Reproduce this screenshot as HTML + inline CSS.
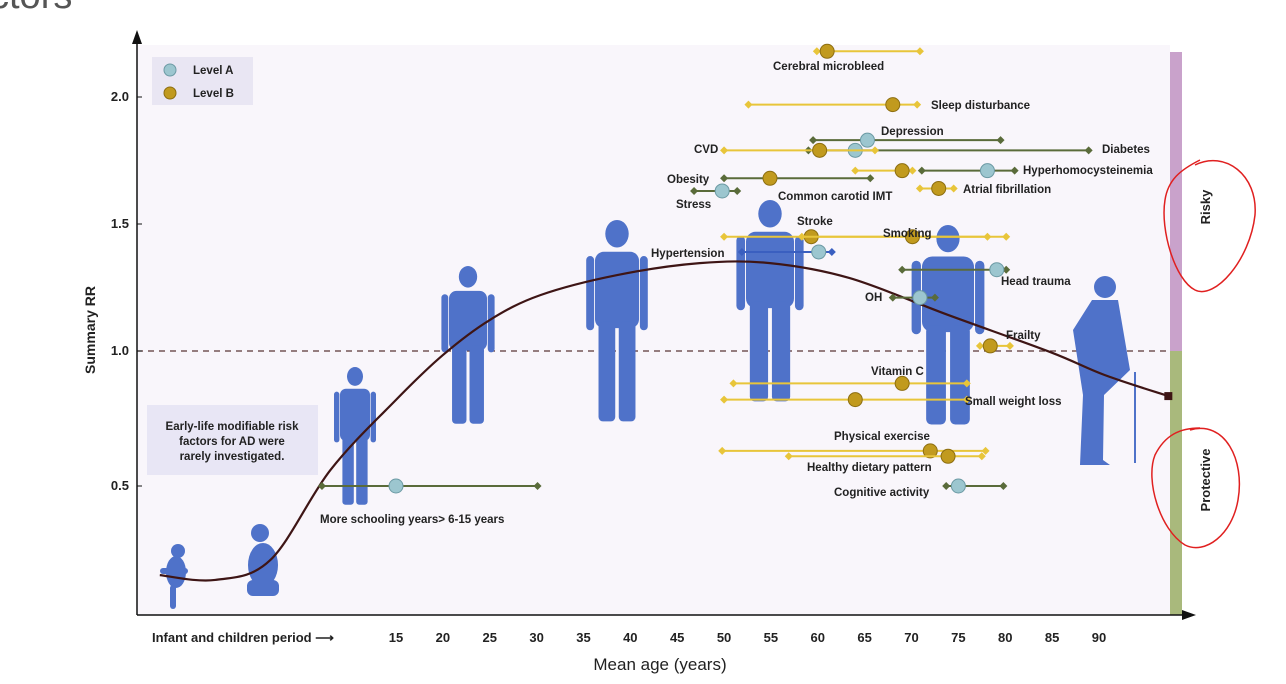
<!DOCTYPE html>
<html><head><meta charset="utf-8">
<style>
body{margin:0;width:1286px;height:684px;background:#fff;overflow:hidden;font-family:"Liberation Sans",sans-serif;}
svg{position:absolute;left:0;top:0}
text{font-family:"Liberation Sans",sans-serif}
.lb{font-size:11.5px;font-weight:bold;fill:#222}
</style></head><body>
<svg id="c" width="1286" height="684">
<text x="-10" y="8" font-size="38" fill="#555">ctors</text>
<rect x="137" y="45" width="1033" height="570" fill="#f9f6fb"/>
<rect x="1170" y="52" width="12" height="299" fill="#c9a2cb"/>
<rect x="1170" y="351" width="12" height="264" fill="#a9b97c"/>
<text transform="translate(1210,207) rotate(-90)" text-anchor="middle" font-size="13" font-weight="bold" fill="#222">Risky</text>
<text transform="translate(1210,480) rotate(-90)" text-anchor="middle" font-size="13" font-weight="bold" fill="#222">Protective</text>
<path d="M1195,165 C1225,150 1258,175 1255,215 C1250,260 1215,300 1195,290 C1175,280 1160,230 1165,200 C1168,180 1180,170 1200,160" fill="none" stroke="#e02020" stroke-width="1.5"/>
<path d="M1190,430 C1225,420 1245,460 1238,500 C1232,535 1205,555 1185,545 C1160,530 1145,480 1155,455 C1165,435 1180,428 1200,428" fill="none" stroke="#e02020" stroke-width="1.5"/>
<line x1="137" y1="351" x2="1170" y2="351" stroke="#5a3535" stroke-width="1.3" stroke-dasharray="6,5"/>
<g id="figs" fill="#4f72c9"></g>
<g id="curve"></g>
<g id="marks"></g>
<line x1="137" y1="615" x2="137" y2="40" stroke="#111" stroke-width="1.5"/>
<path d="M132,44 L137,30 L142,44 Z" fill="#111"/>
<line x1="137" y1="615" x2="1185" y2="615" stroke="#111" stroke-width="1.5"/>
<path d="M1182,610 L1196,615 L1182,620 Z" fill="#111"/>
<g id="ticks"></g>
<text x="152" y="642" font-size="13" font-weight="bold" fill="#222">Infant and children period ⟶</text>
<text x="660" y="670" text-anchor="middle" font-size="17" fill="#222">Mean age (years)</text>
<text transform="translate(95,330) rotate(-90)" text-anchor="middle" font-size="14" font-weight="bold" fill="#222">Summary RR</text>
<g>
<rect x="152" y="57" width="101" height="48" fill="#e9e6f3"/>
<circle cx="170" cy="70" r="6" fill="#9cc6cf" stroke="#6c9aa4"/>
<text x="193" y="74" font-size="11.5" font-weight="bold" fill="#222">Level A</text>
<circle cx="170" cy="93" r="6" fill="#c19a1e" stroke="#8d6e10"/>
<text x="193" y="97" font-size="11.5" font-weight="bold" fill="#222">Level B</text>
</g>
<g>
<rect x="147" y="405" width="171" height="70" fill="#e8e6f5"/>
<text x="232" y="430" text-anchor="middle" font-size="11.5" font-weight="bold" fill="#222">Early-life modifiable risk</text>
<text x="232" y="445" text-anchor="middle" font-size="11.5" font-weight="bold" fill="#222">factors for AD were</text>
<text x="232" y="460" text-anchor="middle" font-size="11.5" font-weight="bold" fill="#222">rarely investigated.</text>
</g>
<g id="labels">
<text class="lb" x="773" y="70">Cerebral microbleed</text>
<text class="lb" x="931" y="109">Sleep disturbance</text>
<text class="lb" x="881" y="135">Depression</text>
<text class="lb" x="1102" y="153">Diabetes</text>
<text class="lb" x="694" y="153">CVD</text>
<text class="lb" x="1023" y="174">Hyperhomocysteinemia</text>
<text class="lb" x="667" y="183">Obesity</text>
<text class="lb" x="963" y="193">Atrial fibrillation</text>
<text class="lb" x="778" y="200">Common carotid IMT</text>
<text class="lb" x="676" y="208">Stress</text>
<text class="lb" x="797" y="225">Stroke</text>
<text class="lb" x="883" y="237">Smoking</text>
<text class="lb" x="651" y="257">Hypertension</text>
<text class="lb" x="1001" y="285">Head trauma</text>
<text class="lb" x="865" y="301">OH</text>
<text class="lb" x="1006" y="339">Frailty</text>
<text class="lb" x="871" y="375">Vitamin C</text>
<text class="lb" x="965" y="405">Small weight loss</text>
<text class="lb" x="834" y="440">Physical exercise</text>
<text class="lb" x="807" y="471">Healthy dietary pattern</text>
<text class="lb" x="834" y="496">Cognitive activity</text>
<text class="lb" x="320" y="523">More schooling years&gt; 6-15 years</text>
</g>
</svg>
<script>
const xTicks=[15,20,25,30,35,40,45,50,55,60,65,70,75,80,85,90];
const yTicks=[0.5,1.0,1.5,2.0];
const factorNames=["Cerebral microbleed","Sleep disturbance","Depression","Diabetes","CVD","Common carotid IMT","Hyperhomocysteinemia","Obesity","Atrial fibrillation","Stress","Stroke","Smoking","Hypertension","Head trauma","OH","Frailty","Vitamin C","Small weight loss","Physical exercise","Healthy dietary pattern","Cognitive activity","More schooling"];
const pointAge=[61.0,68.0,65.3,64.0,60.2,69.0,78.1,54.9,72.9,49.8,59.3,70.1,60.1,79.1,70.9,78.4,69.0,64.0,72.0,73.9,75.0,15.0];
const lowAge=[59.9,52.6,59.5,59.0,50.0,64.0,71.1,50.0,70.9,46.8,50.0,58.3,51.9,69.0,68.0,77.3,51.0,50.0,49.8,56.9,73.7,7.1];
const highAge=[70.9,70.6,79.5,88.9,66.1,70.1,81.0,65.6,74.5,51.4,78.1,80.1,61.5,80.1,72.5,80.5,75.9,75.9,77.9,77.5,79.8,30.1];
const summaryRR=[2.18,1.97,1.83,1.79,1.79,1.71,1.71,1.68,1.64,1.63,1.45,1.45,1.39,1.32,1.21,1.02,0.88,0.82,0.63,0.61,0.50,0.50];
const evidenceLevel=["B","B","A","A","B","B","A","B","B","A","B","B","A","A","A","B","B","B","B","B","A","A"];
const lineKind=["gold","gold","green","green","gold","gold","green","green","gold","green","gold","gold","blue","green","green","gold","gold","gold","gold","gold","green","green"];
const curveAges=[-10.2,-4.3,1.6,8.0,15,20,25,30.4,38.6,47.4,54.9,63.4,73.9,84.8,90.6,97.4];
const curveRR=[0.170,0.152,0.226,0.559,0.819,0.985,1.122,1.220,1.299,1.346,1.346,1.287,1.142,0.996,0.911,0.833];

const NS="http://www.w3.org/2000/svg";
const xs=a=>396+(a-15)*9.373;
const ys=v=>v>=1?351-(v-1)*254:351+(1-v)*270;
function mk(tag,at,parent){const e=document.createElementNS(NS,tag);for(const k in at)e.setAttribute(k,at[k]);parent.appendChild(e);return e;}
const ticks=document.getElementById('ticks');
xTicks.forEach(t=>{const e=mk('text',{x:xs(t),y:642,'text-anchor':'middle','font-size':13,'font-weight':'bold',fill:'#222'},ticks);e.textContent=t;

});
yTicks.forEach(t=>{const e=mk('text',{x:129,y:ys(t)+4,'text-anchor':'end','font-size':13,'font-weight':'bold',fill:'#222'},ticks);e.textContent=t.toFixed(1);


const l=mk('line',{x1:137,x2:142,y1:ys(t),y2:ys(t),stroke:'#111'},ticks);

});

const figs=document.getElementById('figs');
function person(cx,top,h,w){const g=mk('g',{},figs);
const hr=h*0.065;mk('ellipse',{cx:cx,cy:top+hr,rx:hr*0.85,ry:hr},g);
const st=top+2*hr+h*0.02;mk('rect',{x:cx-w/2,y:st,width:w,height:h*0.36,rx:w*0.2},g);
mk('rect',{x:cx-w/2-w*0.2,y:st+h*0.02,width:w*0.18,height:h*0.35,rx:w*0.09},g);
mk('rect',{x:cx+w/2+w*0.02,y:st+h*0.02,width:w*0.18,height:h*0.35,rx:w*0.09},g);
mk('rect',{x:cx-w*0.42,y:st+h*0.33,width:w*0.38,height:h*0.47,rx:w*0.1},g);
mk('rect',{x:cx+w*0.04,y:st+h*0.33,width:w*0.38,height:h*0.47,rx:w*0.1},g);

}
person(355,367,145,30);person(468,266,166,38);person(617,220,212,44);person(770,200,212,48);person(948,225,210,52);
const b=mk('g',{},figs);
mk('circle',{cx:178,cy:551,r:7},b);mk('ellipse',{cx:176,cy:572,rx:10,ry:16},b);mk('rect',{x:160,y:568,width:28,height:6,rx:3},b);mk('rect',{x:170,y:585,width:6,height:24,rx:3},b);
const t=mk('g',{},figs);
mk('circle',{cx:260,cy:533,r:9},t);mk('ellipse',{cx:263,cy:565,rx:15,ry:22},t);mk('rect',{x:247,y:580,width:32,height:16,rx:6},t);
const el=mk('g',{},figs);
mk('circle',{cx:1105,cy:287,r:11},el);mk('path',{d:'M1092,300 L1118,300 L1130,370 L1104,395 L1103,460 L1110,465 L1080,465 L1083,395 L1073,330 Z'},el);
mk('line',{x1:1135,y1:372,x2:1135,y2:463,stroke:'#4f72c9','stroke-width':2},el);

const cg=document.getElementById('curve');
const P=curveAges.map((a,i)=>[xs(a),ys(curveRR[i])]);
let d='M'+P[0][0]+','+P[0][1];
for(let i=0;i<P.length-1;i++){const p0=P[Math.max(0,i-1)],p1=P[i],p2=P[i+1],p3=P[Math.min(P.length-1,i+2)];
d+=' C'+(p1[0]+(p2[0]-p0[0])/6)+','+(p1[1]+(p2[1]-p0[1])/6)+' '+(p2[0]-(p3[0]-p1[0])/6)+','+(p2[1]-(p3[1]-p1[1])/6)+' '+p2[0]+','+p2[1];}
const cp=mk('path',{d:d,fill:'none',stroke:'#3e1515','stroke-width':2.2},cg);


const cend=mk('rect',{x:P[P.length-1][0]-4,y:P[P.length-1][1]-4,width:8,height:8,fill:'#3e1515'},cg);



const mg=document.getElementById('marks');
const col={gold:'#e8c53a',green:'#5a6b3a',blue:'#3a5fc0'};
factorNames.forEach((n,i)=>{const y=ys(summaryRR[i]),c=col[lineKind[i]];
const g=mk('g',{},mg);


mk('line',{x1:xs(lowAge[i]),x2:xs(highAge[i]),y1:y,y2:y,stroke:c,'stroke-width':2},g);
[lowAge[i],highAge[i]].forEach(a=>mk('path',{d:`M${xs(a)-4},${y} L${xs(a)},${y-4} L${xs(a)+4},${y} L${xs(a)},${y+4} Z`,fill:c},g));
const A=evidenceLevel[i]==='A';
mk('circle',{cx:xs(pointAge[i]),cy:y,r:7,fill:A?'#9cc6cf':'#c19a1e',stroke:A?'#6c9aa4':'#8d6e10'},g);
});
</script>
</body></html>
